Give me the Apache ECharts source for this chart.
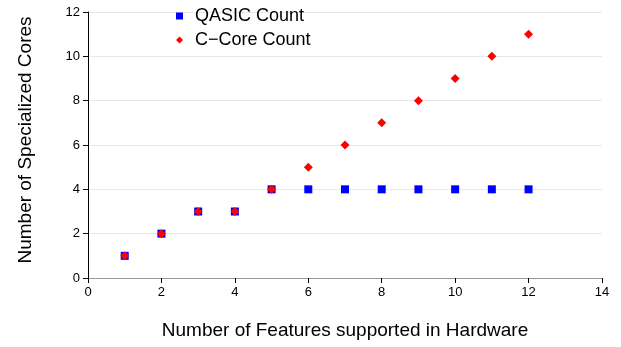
<!DOCTYPE html>
<html><head><meta charset="utf-8">
<script src="https://cdn.jsdelivr.net/npm/echarts@6/dist/echarts.min.js"></script>
<style>html,body{margin:0;padding:0;background:#fff}#c{width:621px;height:347px}</style>
</head><body><div id="c"></div>
<script>
const features = [1,2,3,4,5,6,7,8,9,10,11,12];
const qasicCount = [1,2,3,3,4,4,4,4,4,4,4,4];
const ccoreCount = [1,2,3,3,4,5,6,7,8,9,10,11];
const xTicks = [0,2,4,6,8,10,12,14];
const yTicks = [0,2,4,6,8,10,12];

const chart = echarts.init(document.getElementById('c'), null, {renderer:'canvas'});
const font = 'Liberation Sans, Arial, Helvetica, sans-serif';
chart.setOption({
  animation:false,
  textStyle:{fontFamily:font},
  grid:{left:88,right:19,top:12,bottom:69,containLabel:false},
  legend:{
    left:176, top:7, padding:0, orient:'vertical', itemGap:6, itemWidth:7, itemHeight:7,
    textStyle:{fontSize:18,color:'#000',fontFamily:font,padding:[0,0,0,7]},
    data:[{name:'QASIC Count',icon:'rect',itemStyle:{color:'#0000ff',opacity:1}},{name:'C\u2212Core Count',icon:'diamond',itemStyle:{color:'#ff0000',opacity:1}}]
  },
  xAxis:{
    type:'value', min:0, max:14, interval:2,
    name:'Number of Features supported in Hardware', nameLocation:'middle', nameGap:43,
    nameTextStyle:{fontSize:19,color:'#000',fontFamily:font},
    axisLine:{show:true,lineStyle:{color:'#999',width:1}},
    axisTick:{show:true,inside:false,length:5,lineStyle:{color:'#000'}},
    axisLabel:{fontSize:13,color:'#000',margin:8,fontFamily:font},
    splitLine:{show:false}
  },
  yAxis:{
    type:'value', min:0, max:12, interval:2,
    name:'Number of Specialized Cores', nameLocation:'middle', nameGap:53,
    nameTextStyle:{fontSize:19,color:'#000',fontFamily:font,padding:[0,0,0,10]},
    axisLine:{show:true,lineStyle:{color:'#000',width:1}},
    axisTick:{show:true,inside:false,length:5,lineStyle:{color:'#000'}},
    axisLabel:{fontSize:13,color:'#000',margin:8,fontFamily:font},
    splitLine:{show:true,lineStyle:{color:'#e8e8e8',width:1}}
  },
  series:[
    {name:'QASIC Count',type:'scatter',symbol:'rect',symbolSize:8,
     itemStyle:{color:'#0000ff',opacity:1},
     data:features.map((f,i)=>[f,qasicCount[i]]),z:2},
    {name:'C\u2212Core Count',type:'scatter',symbol:'diamond',symbolSize:[9,9],
     itemStyle:{color:'#ff0000',opacity:1},
     data:features.map((f,i)=>[f,ccoreCount[i]]),z:3}
  ]
});
</script></body></html>
